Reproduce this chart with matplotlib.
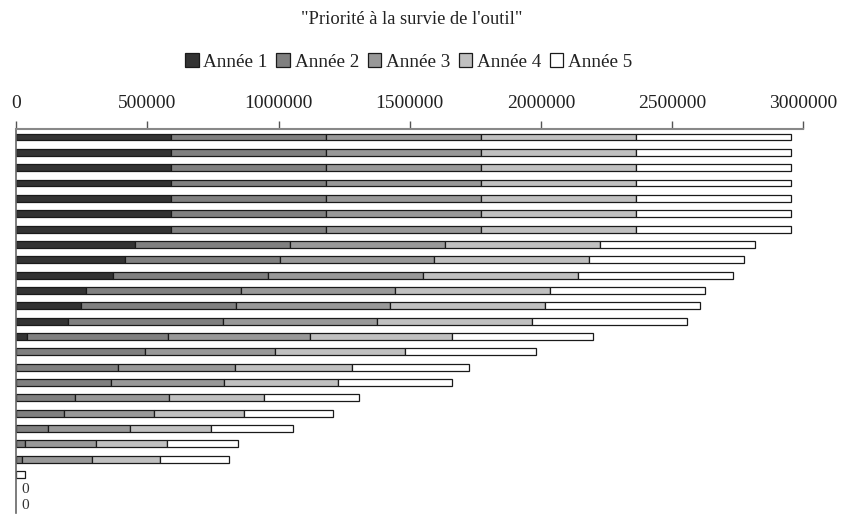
import numpy as np
import matplotlib
matplotlib.use("Agg")
from matplotlib import pyplot as plt, ticker

plt.rcParams['font.family'] = ['Liberation Serif', 'DejaVu Serif']

title = "\"Priorité à la survie de l'outil\""
series_names = ['Année 1', 'Année 2', 'Année 3', 'Année 4', 'Année 5']

# one row per bar, top to bottom
annee_1 = [590400, 590400, 590400, 590400, 590400, 590400, 590400,
           452500, 413000, 370000, 264500, 245500, 196000, 39600,
           0, 0, 0, 0, 0, 0, 0, 0, 0, 0, 0]
annee_2 = [590400, 590400, 590400, 590400, 590400, 590400, 590400,
           590400, 590400, 590400, 590400, 590400, 590400, 537500,
           490600, 388800, 361000, 222600, 183000, 122000, 34300, 22900, 0, 0, 0]
annee_3 = [590400, 590400, 590400, 590400, 590400, 590400, 590400,
           590400, 590400, 590400, 590400, 590400, 590400, 543600,
           495500, 446000, 432000, 361000, 342000, 311000, 270500, 264500, 0, 0, 0]
annee_4 = [590400, 590400, 590400, 590400, 590400, 590400, 590400,
           590400, 590400, 590400, 590400, 590400, 590400, 539000,
           495600, 445000, 433400, 362000, 342000, 311000, 268300, 260400, 0, 0, 0]
annee_5 = [590400, 590400, 590400, 590400, 590400, 590400, 590400,
           590400, 590400, 590400, 590400, 590400, 590400, 540000,
           498200, 446000, 433400, 361000, 341600, 312600, 270700, 263000, 34300, 0, 0]

colors = ['#333333', '#808080', '#999999', '#c0c0c0', '#ffffff']

series = np.array([annee_1, annee_2, annee_3, annee_4, annee_5], dtype=float)
rows = np.arange(series.shape[1])

fig = plt.figure(figsize=(8.41, 5.18), dpi=100)
ax = fig.add_axes([0.0194, 0.0097, 0.9358, 0.7407])

left = np.zeros(len(rows))
handles = []
for values, name, color in zip(series, series_names, colors):
    mask = values > 0
    bars = ax.barh(rows[mask], values[mask], left=left[mask], height=0.45,
                   color=color, edgecolor='#1a1a1a', linewidth=0.9, label=name)
    handles.append(bars)
    left += values

# rows with nothing stacked only carry their total
for row, total in zip(rows, left):
    if total == 0:
        ax.annotate(f'{total:.0f}', (total, row), xytext=(4, 0), textcoords='offset points',
                    va='center', ha='left', fontsize=11, color='#333333')

ax.set_xlim(0, 3000000)
ax.set_ylim(rows[-1] + 0.5, rows[0] - 0.5)
ax.xaxis.set_major_locator(ticker.MultipleLocator(500000))
ax.xaxis.set_major_formatter(ticker.FuncFormatter(lambda x, pos: f'{x:.0f}'))
ax.xaxis.tick_top()
ax.tick_params(axis='x', direction='out', length=6, width=1, color='#555555',
               labelsize=14, labelcolor='#222222', pad=6.5)
ax.set_yticks([])
for side in ['right', 'bottom']:
    ax.spines[side].set_visible(False)
ax.spines['top'].set_color('#888888')
ax.spines['top'].set_linewidth(1.5)
ax.spines['left'].set_color('#666666')
ax.spines['left'].set_linewidth(1.2)

fig.text(0.49, 0.963, title, ha='center', va='center', fontsize=13.3, color='#222222')
fig.legend(handles=[h for h in handles], labels=series_names, loc='center',
           bbox_to_anchor=(0.486, 0.88), ncol=5, frameon=False, fontsize=13.8,
           handlelength=0.7, handleheight=0.7, handletextpad=0.25, columnspacing=0.45,
           labelcolor='#222222')

fig.savefig('out.png', dpi=100)
